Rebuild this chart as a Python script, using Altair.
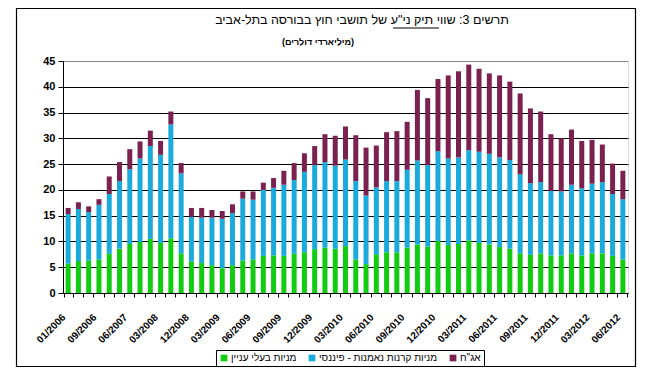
import altair as alt
import pandas as pd

# categories (quarterly 2006-2008, monthly from 2009)
dates = ["01/2006", "03/2006", "06/2006", "09/2006", "12/2006",
         "03/2007", "06/2007", "09/2007", "12/2007",
         "03/2008", "06/2008", "09/2008", "12/2008",
         "01/2009", "02/2009", "03/2009", "04/2009", "05/2009", "06/2009",
         "07/2009", "08/2009", "09/2009", "10/2009", "11/2009", "12/2009",
         "01/2010", "02/2010", "03/2010", "04/2010", "05/2010", "06/2010",
         "07/2010", "08/2010", "09/2010", "10/2010", "11/2010", "12/2010",
         "01/2011", "02/2011", "03/2011", "04/2011", "05/2011", "06/2011",
         "07/2011", "08/2011", "09/2011", "10/2011", "11/2011", "12/2011",
         "01/2012", "02/2012", "03/2012", "04/2012", "05/2012", "06/2012"]

labeled = ["01/2006", "09/2006", "06/2007", "03/2008", "12/2008", "03/2009",
           "06/2009", "09/2009", "12/2009", "03/2010", "06/2010", "09/2010",
           "12/2010", "03/2011", "06/2011", "09/2011", "12/2011", "03/2012",
           "06/2012"]

# מניות בעלי עניין (green, bottom)
green = [5.7, 6.2, 6.3, 6.5, 7.6, 8.6, 9.5, 9.9, 10.5, 9.7, 10.6, 7.7, 6.1,
         5.8, 5.4, 4.8, 5.4, 6.3, 6.5, 7.2, 7.3, 7.2, 7.6, 7.9, 8.5, 8.8,
         8.6, 9.1, 6.5, 5.6, 7.5, 7.9, 7.9, 8.8, 9.4, 9.0, 10.1, 9.3, 9.5,
         10.2, 9.7, 9.4, 8.9, 8.6, 7.7, 7.4, 7.7, 7.3, 7.3, 7.7, 7.3, 7.7,
         7.7, 7.2, 6.5]
# top of blue segment (cumulative)
blue_top = [15.3, 16.3, 15.7, 17.1, 19.2, 21.7, 24.0, 26.1, 28.5, 26.8, 32.7,
            23.2, 14.8, 14.6, 14.6, 14.4, 15.5, 18.3, 18.1, 20.0, 20.4, 21.0,
            21.9, 23.5, 24.8, 25.4, 24.7, 25.9, 21.7, 18.9, 20.5, 21.7, 21.7,
            23.9, 25.7, 24.8, 27.5, 26.1, 26.3, 27.7, 27.4, 27.0, 26.3, 25.8,
            23.0, 21.3, 21.5, 19.8, 19.7, 21.0, 20.3, 21.2, 21.5, 19.2, 18.2]
# total (top of bar)
total = [16.5, 17.6, 16.8, 18.2, 22.6, 25.4, 27.9, 29.4, 31.5, 29.5, 35.2,
         25.2, 16.5, 16.5, 16.1, 15.9, 17.2, 19.7, 19.7, 21.4, 22.3, 23.7,
         25.2, 27.1, 28.5, 30.8, 30.5, 32.3, 30.6, 28.2, 28.6, 31.2, 31.4,
         33.2, 39.4, 37.8, 41.5, 42.2, 43.0, 44.3, 43.5, 42.6, 42.2, 41.0,
         38.7, 35.8, 35.2, 30.8, 30.0, 31.7, 29.5, 29.7, 28.8, 25.1, 23.7]

series = ["מניות בעלי עניין", "מניות קרנות נאמנות - פיננסי", "אג\"ח"]
colors = ["#12cc12", "#1aaadb", "#7b2150"]

RLE, PDF = "\u202B", "\u202C"
title_text = RLE + "תרשים 3: שווי תיק ני\"ע של תושבי חוץ בבורסה בתל-אביב" + PDF
subtitle_text = "(מיליארדי דולרים)"

rows = []
for i, d in enumerate(dates):
    vals = [green[i], blue_top[i] - green[i], total[i] - blue_top[i]]
    for k, s in enumerate(series):
        rows.append({"date": d, "series": s, "value": round(vals[k], 2), "ord": k})
df = pd.DataFrame(rows)

FONT = "Liberation Sans"
label_list = "[" + ",".join("'%s'" % l for l in labeled) + "]"

bars = alt.Chart(df).mark_bar(width=5).encode(
    x=alt.X("date:N", sort=dates, title=None,
            axis=alt.Axis(labelAngle=-45, labelFontSize=10, labelFontWeight="bold",
                          labelFont=FONT, labelColor="black", tickBand="extent",
                          tickSize=4, tickColor="black", domainColor="black",
                          labelPadding=15, labelOffset=-8, labelOverlap=False,
                          labelExpr="indexof(%s, datum.value) >= 0 ? datum.value : ''" % label_list)),
    y=alt.Y("value:Q", stack="zero", title=None,
            scale=alt.Scale(domain=[0, 45], nice=False),
            axis=alt.Axis(values=list(range(0, 50, 5)), labelFontSize=11,
                          labelFontWeight="bold", labelFont=FONT, labelColor="black",
                          tickSize=5, tickColor="black", domainColor="black",
                          labelPadding=3,
                          gridColor={"condition": {"test": "datum.value == 45", "value": "#888888"},
                                     "value": "black"},
                          gridOpacity=1)),
    color=alt.Color("series:N", scale=alt.Scale(domain=series, range=colors),
                    legend=alt.Legend(title=None, orient="none", legendX=153, legendY=289,
                                      direction="horizontal", symbolType="square",
                                      symbolSize=45, symbolStrokeWidth=0,
                                      labelFont=FONT, labelFontSize=10, labelColor="black",
                                      strokeColor="black", padding=3, columnPadding=10,
                                      labelOffset=2, fillColor="white")),
    order=alt.Order("ord:Q"),
)

frame = alt.Chart(pd.DataFrame({"a": [0]})).mark_rect(
    fill=None, stroke="black", strokeWidth=1.2
).encode(x=alt.value(-46.5), x2=alt.value(572.5), y=alt.value(-52.5), y2=alt.value(305.5))

title_mark = alt.Chart(pd.DataFrame({"t": [title_text]})).mark_text(
    font=FONT, fontSize=12.5, color="black", align="center", baseline="middle"
).encode(text="t:N", x=alt.value(299), y=alt.value(-41))
underline = alt.Chart(pd.DataFrame({"a": [0]})).mark_rule(
    color="black", strokeWidth=1
).encode(x=alt.value(330), x2=alt.value(376), y=alt.value(-33))
subtitle_mark = alt.Chart(pd.DataFrame({"t": [subtitle_text]})).mark_text(
    font=FONT, fontSize=9, fontWeight="bold", color="black", align="center", baseline="middle"
).encode(text="t:N", x=alt.value(255), y=alt.value(-19))

chart = alt.layer(frame, bars, title_mark, underline, subtitle_mark).properties(
    width=565, height=232,
    autosize=alt.AutoSizeParams(type="none"),
    padding={"left": 55, "top": 53, "right": 9, "bottom": 74},
).configure_view(stroke="#888888", strokeWidth=1).configure(background="white")

chart.save("out.html", embed_options={"renderer": "svg", "actions": False})
